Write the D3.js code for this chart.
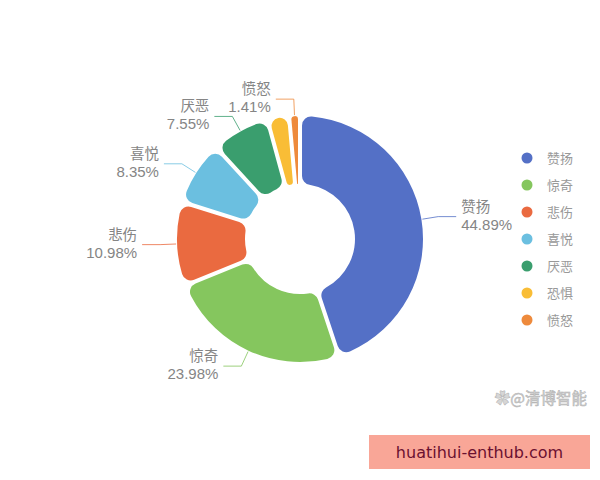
<!DOCTYPE html>
<html>
<head>
<meta charset="utf-8">
<script src="https://cdn.jsdelivr.net/npm/d3@7/dist/d3.min.js"></script>
<style>
  html, body { margin: 0; padding: 0; background: #fff; }
  svg { display: block; font-family: "Noto Sans CJK SC", "Noto Sans", sans-serif; }
</style>
</head>
<body>
<svg id="chart" width="600" height="480"></svg>
<script>
// ---- data ----
const categories = ["赞扬", "惊奇", "悲伤", "喜悦", "厌恶", "恐惧", "愤怒"];
const values = [44.89, 23.98, 10.98, 8.35, 7.55, 2.84, 1.41];
const colors = ["#5470c6", "#85c65e", "#ea6a40", "#6bbfe0", "#3a9e6e", "#f9bd36", "#ee8a3c"];
const labelShown = [true, true, true, true, true, false, true];

const svg = d3.select("#chart");
const cx = 300, cy = 239;
const r0 = 55, r1 = 123;

const data = categories.map((c, i) => ({ name: c, value: values[i], color: colors[i], show: labelShown[i] }));

const pie = d3.pie().value(d => d.value).sort(null).startAngle(0).endAngle(2 * Math.PI);
const arcs = pie(data);

const arc = d3.arc()
  .innerRadius(r0)
  .outerRadius(r1)
  .cornerRadius(9)
  .padAngle(0.03);

const g = svg.append("g").attr("transform", `translate(${cx},${cy})`);

g.selectAll("path.slice")
  .data(arcs)
  .join("path")
  .attr("class", "slice")
  .attr("d", arc)
  .attr("fill", d => d.data.color);

// labels with leader lines
const len1 = 17, len2 = 18;
const lbl = svg.append("g").attr("transform", `translate(${cx},${cy})`);
arcs.filter(d => d.data.show).forEach(d => {
  const mid = (d.startAngle + d.endAngle) / 2;
  const sx = Math.sin(mid), sy = -Math.cos(mid);
  const p0 = [sx * (r1 + 1), sy * (r1 + 1)];
  const p1 = [sx * (r1 + len1), sy * (r1 + len1)];
  const right = sx > 0;
  const p2 = [p1[0] + (right ? len2 : -len2), p1[1]];
  lbl.append("polyline")
    .attr("points", [p0, p1, p2].map(p => p.join(",")).join(" "))
    .attr("fill", "none")
    .attr("stroke", d.data.color)
    .attr("stroke-opacity", 0.8)
    .attr("stroke-width", 1);
  const tx = p2[0] + (right ? 5 : -5);
  const anchor = right ? "start" : "end";
  lbl.append("text")
    .attr("x", tx).attr("y", p2[1] - 5)
    .attr("text-anchor", anchor)
    .attr("fill", "#858585")
    .attr("font-size", 14.5)
    .text(d.data.name);
  lbl.append("text")
    .attr("x", tx).attr("y", p2[1] + 13)
    .attr("text-anchor", anchor)
    .attr("fill", "#858585")
    .attr("font-size", 15)
    .attr("font-family", "Liberation Sans, Arial, sans-serif")
    .text(d3.format(".2f")(d.data.value) + "%");
});

// legend
const legend = svg.append("g").attr("transform", "translate(527,158)");
const items = legend.selectAll("g").data(data).join("g")
  .attr("transform", (d, i) => `translate(0,${i * 27})`);
items.append("circle").attr("r", 5.5).attr("fill", d => d.color);
items.append("text")
  .attr("x", 20).attr("y", 4.5)
  .attr("font-size", 13)
  .attr("fill", "#999")
  .text(d => d.name);

// watermark
svg.append("text")
  .attr("x", 587).attr("y", 404)
  .attr("text-anchor", "end")
  .attr("font-size", 15.5)
  .attr("fill", "#d6d6d6")
  .attr("stroke", "#b0b0b0")
  .attr("stroke-width", 0.5)
  .text("✿@清博智能");

// footer band
svg.append("rect")
  .attr("x", 369).attr("y", 435).attr("width", 221).attr("height", 34)
  .attr("fill", "#f9a697");
svg.append("text")
  .attr("x", 479.5).attr("y", 458)
  .attr("text-anchor", "middle")
  .attr("font-size", 16)
  .attr("font-family", "DejaVu Sans, sans-serif")
  .attr("fill", "#6b1030")
  .text("huatihui-enthub.com");
</script>
</body>
</html>
